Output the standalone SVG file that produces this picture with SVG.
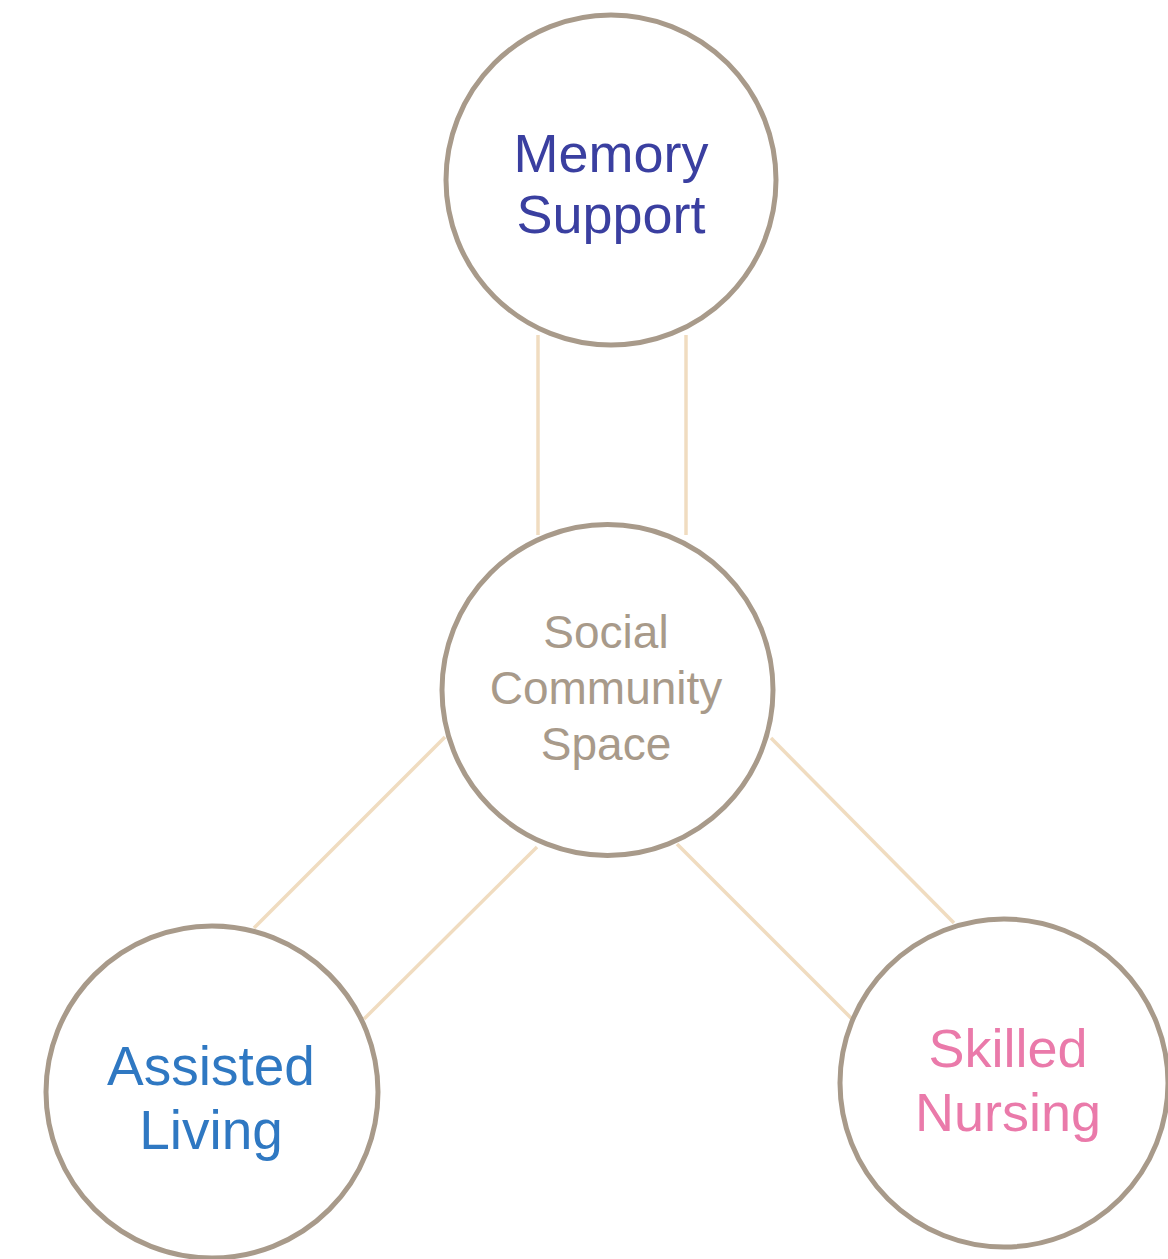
<svg xmlns="http://www.w3.org/2000/svg" width="1168" height="1259" viewBox="0 0 1168 1259">
<style>
.node{fill:#fff;stroke:#a89a8a;stroke-width:5}
.link{stroke:#f0dcc0;stroke-width:3.5;fill:none}
text{font-family:"Liberation Sans",Arial,sans-serif;text-anchor:middle}
</style>
<rect width="1168" height="1259" fill="#fff"/>
<g id="connectors">
<line class="link" x1="538" y1="335" x2="538" y2="535"/>
<line class="link" x1="686" y1="335" x2="686" y2="535"/>
<line class="link" x1="445" y1="737" x2="254" y2="928"/>
<line class="link" x1="537" y1="847" x2="364" y2="1019"/>
<line class="link" x1="771" y1="738" x2="954" y2="923"/>
<line class="link" x1="677" y1="844" x2="852" y2="1019"/>
</g>
<g id="memory-support">
<circle class="node" cx="611" cy="180" r="165"/>
<text x="611" y="172" font-size="54" fill="#3a3fa0">Memory</text>
<text x="611" y="233" font-size="54" fill="#3a3fa0">Support</text>
</g>
<g id="social-community-space">
<circle class="node" cx="607.5" cy="690" r="165.5"/>
<text x="606" y="648" font-size="46" fill="#a89a8a">Social</text>
<text x="606" y="704" font-size="46" fill="#a89a8a">Community</text>
<text x="606" y="760" font-size="46" fill="#a89a8a">Space</text>
</g>
<g id="assisted-living">
<circle class="node" cx="212" cy="1092" r="166"/>
<text x="211" y="1085" font-size="55" fill="#2f78c2">Assisted</text>
<text x="211" y="1149" font-size="55" fill="#2f78c2">Living</text>
</g>
<g id="skilled-nursing">
<circle class="node" cx="1004" cy="1083" r="164"/>
<text x="1008" y="1067" font-size="54" fill="#ea7aaa">Skilled</text>
<text x="1008" y="1131" font-size="54" fill="#ea7aaa">Nursing</text>
</g>
</svg>
